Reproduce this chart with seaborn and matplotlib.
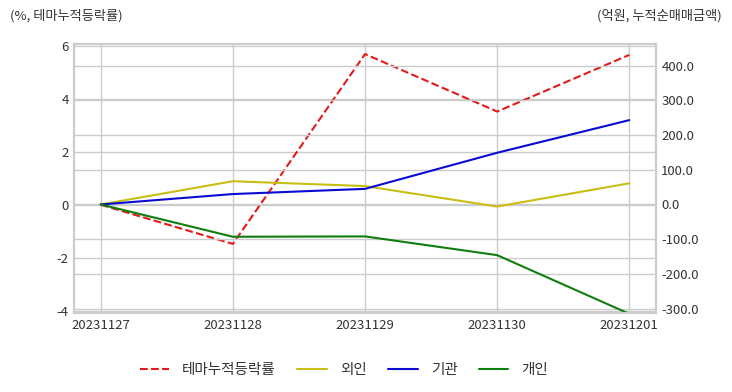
import numpy as np
import pandas as pd
import seaborn as sns
import matplotlib.pyplot as plt

# Data
dates = ["20231127", "20231128", "20231129", "20231130", "20231201"]
theme_return = [0.0, -1.48, 5.69, 3.52, 5.66]      # %, left axis
foreign = [0.0, 67.0, 53.0, -6.0, 61.0]            # 억원, right axis
institution = [0.0, 30.0, 45.0, 149.0, 243.0]
individual = [0.0, -93.0, -92.0, -146.0, -315.0]

sns.set_theme(style="whitegrid")
plt.rcParams['font.family'] = ['Noto Sans CJK KR', 'DejaVu Sans']
plt.rcParams['axes.unicode_minus'] = False

df = pd.DataFrame({
    "date": dates,
    "테마누적등락률": theme_return,
    "외인": foreign,
    "기관": institution,
    "개인": individual,
})

fig = plt.figure(figsize=(7.32, 3.92), dpi=100)
ax = fig.add_axes([0.1015, 0.2008, 0.7943, 0.6862])
ax2 = ax.twinx()

sns.lineplot(data=df, x="date", y="테마누적등락률", ax=ax, color="#e31a1c",
             linestyle="--", linewidth=1.5, label="테마누적등락률", legend=False)
sns.lineplot(data=df, x="date", y="외인", ax=ax2, color="#c8be14",
             linewidth=1.5, label="외인", legend=False)
sns.lineplot(data=df, x="date", y="기관", ax=ax2, color="#0a0ad2",
             linewidth=1.5, label="기관", legend=False)
sns.lineplot(data=df, x="date", y="개인", ax=ax2, color="#0f7d0f",
             linewidth=1.5, label="개인", legend=False)

ax.set_ylim(-4.1, 6.06)
ax.set_yticks([-4, -2, 0, 2, 4, 6])
ax2.set_ylim(-313.5, 461.5)
ax2.set_yticks([-300, -200, -100, 0, 100, 200, 300, 400])
ax2.set_yticklabels([f"{v:.1f}" for v in ax2.get_yticks()])
ax.set_xlim(-0.2, 4.2)

for a in (ax, ax2):
    a.set_xlabel("")
    a.set_ylabel("")
    a.tick_params(labelsize=9.5, labelcolor="#333333", length=0, pad=4)
    a.grid(True, color="#cccccc", linewidth=1)
    for s in a.spines.values():
        s.set_color("#cccccc")
        s.set_linewidth(1.5)
ax2.grid(True, axis="y", color="#cccccc", linewidth=1)
ax2.grid(False, axis="x")

fig.text(0.014, 0.96, "(%, 테마누적등락률)", fontsize=9.5, color="#333333",
         ha="left", va="center")
fig.text(0.986, 0.96, "(억원, 누적순매매금액)", fontsize=9.5, color="#333333",
         ha="right", va="center")

h1, l1 = ax.get_legend_handles_labels()
h2, l2 = ax2.get_legend_handles_labels()
fig.legend(h1 + h2, l1 + l2, loc="center", bbox_to_anchor=(0.47, 0.057),
           ncol=4, frameon=False, fontsize=10.5, handlelength=2.0,
           handletextpad=0.9, columnspacing=1.5, labelcolor="#333333")

plt.savefig("out.png", dpi=100)
plt.close()
